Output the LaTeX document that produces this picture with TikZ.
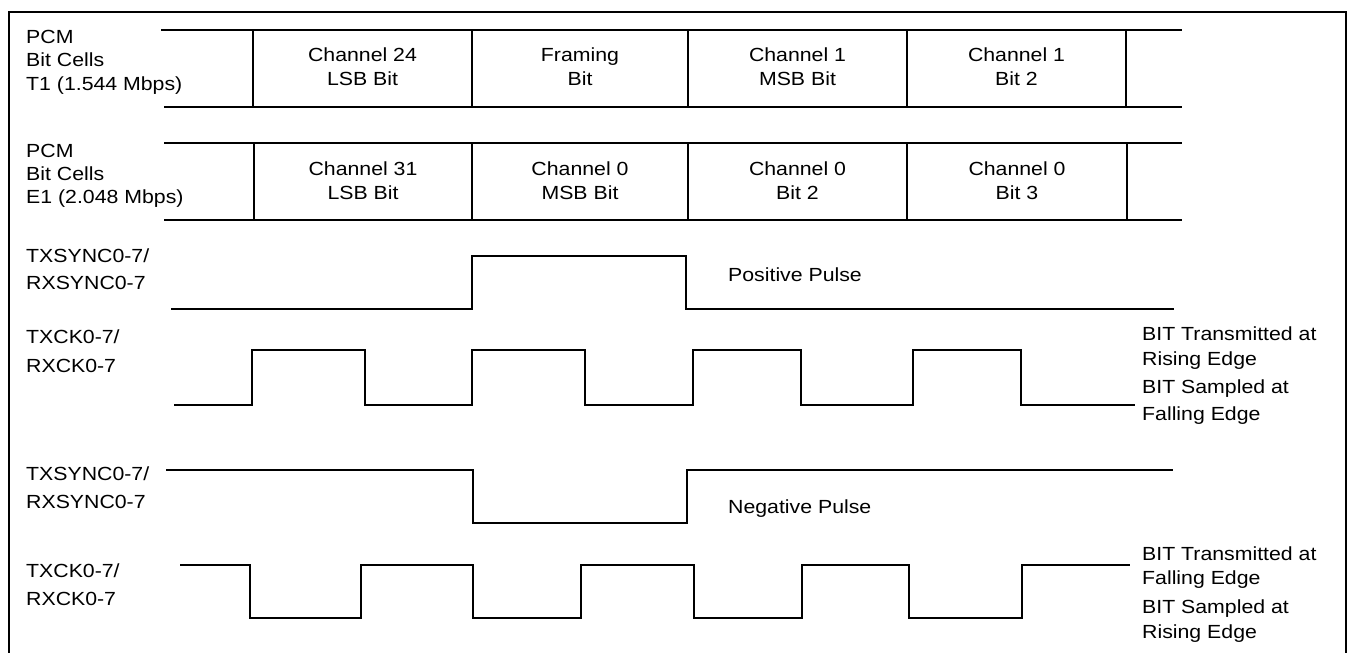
\documentclass[tikz,border=0pt]{standalone}
\usepackage{fontspec}
\setmainfont[FakeStretch=1.12]{Liberation Sans}
\begin{document}
\begin{tikzpicture}[x=1pt,y=-1pt,
  wave/.style={line width=1.3pt, line join=miter},
  cell/.style={line width=1.2pt},
  lbl/.style={anchor=base west, inner sep=0pt, font=\fontsize{19}{23}\selectfont},
  ctxt/.style={anchor=base, inner sep=0pt, font=\fontsize{19}{23}\selectfont},
]
\useasboundingbox (0,0) rectangle (1349,653);
\draw[line width=2.6pt] (9,653) -- (9,12) -- (1346,12) -- (1346,653);

% T1 bit cells
\draw[cell] (161,30) -- (1182,30);
\draw[cell] (164,107) -- (1182,107);
\foreach \x in {253,472,688,907,1126} \draw[cell] (\x,30) -- (\x,107);
% E1 bit cells
\draw[cell] (164,143) -- (1182,143);
\draw[cell] (164,220) -- (1182,220);
\foreach \x in {254,472,688,907,1127} \draw[cell] (\x,143) -- (\x,220);

% left labels
\node[lbl] (t1a) at (26,43) {PCM};
\node[lbl] (t1b) at (26,66.5) {Bit Cells};
\node[lbl] (t1c) at (26,90) {T1 (1.544 Mbps)};
\node[lbl] (e1a) at (26,157) {PCM};
\node[lbl] (e1b) at (26,180) {Bit Cells};
\node[lbl] (e1c) at (26,203) {E1 (2.048 Mbps)};
\node[lbl] (s1a) at (26,262) {TXSYNC0-7/};
\node[lbl] (s1b) at (26,289) {RXSYNC0-7};
\node[lbl] (c1a) at (26,343) {TXCK0-7/};
\node[lbl] (c1b) at (26,372) {RXCK0-7};
\node[lbl] (s2a) at (26,480) {TXSYNC0-7/};
\node[lbl] (s2b) at (26,508) {RXSYNC0-7};
\node[lbl] (c2a) at (26,577) {TXCK0-7/};
\node[lbl] (c2b) at (26,605) {RXCK0-7};

% T1 cell texts
\node[ctxt] (ta1) at (362.5,61) {Channel 24};
\node[ctxt] (ta2) at (362.5,85) {LSB Bit};
\node[ctxt] (tb1) at (580,61) {Framing};
\node[ctxt] (tb2) at (580,85) {Bit};
\node[ctxt] (tc1) at (797.5,61) {Channel 1};
\node[ctxt] (tc2) at (797.5,85) {MSB Bit};
\node[ctxt] (td1) at (1016.5,61) {Channel 1};
\node[ctxt] (td2) at (1016.5,85) {Bit 2};
% E1 cell texts
\node[ctxt] (ea1) at (363,175) {Channel 31};
\node[ctxt] (ea2) at (363,199) {LSB Bit};
\node[ctxt] (eb1) at (580,175) {Channel 0};
\node[ctxt] (eb2) at (580,199) {MSB Bit};
\node[ctxt] (ec1) at (797.5,175) {Channel 0};
\node[ctxt] (ec2) at (797.5,199) {Bit 2};
\node[ctxt] (ed1) at (1017,175) {Channel 0};
\node[ctxt] (ed2) at (1017,199) {Bit 3};

% positive sync pulse
\draw[wave] (171,309) -| (472,256) -| (686,309) -- (1174,309);
\node[lbl] (pos) at (728,281) {Positive Pulse};

% clock 1
\draw[wave] (174,405) -| (252,350) -| (365,405) -| (472,350) -| (585,405)
  -| (693,350) -| (801,405) -| (913,350) -| (1021,405) -- (1135,405);
\node[lbl] (r1a) at (1142,340) {BIT Transmitted at};
\node[lbl] (r1b) at (1142,365) {Rising Edge};
\node[lbl] (r1c) at (1142,393) {BIT Sampled at};
\node[lbl] (r1d) at (1142,420) {Falling Edge};

% negative sync pulse
\draw[wave] (166,470) -| (473,523) -| (687,470) -- (1173,470);
\node[lbl] (neg) at (728,513) {Negative Pulse};

% clock 2
\draw[wave] (180,565) -| (250,618) -| (361,565) -| (473,618) -| (581,565)
  -| (694,618) -| (802,565) -| (909,618) -| (1022,565) -- (1130,565);
\node[lbl] (r2a) at (1142,560) {BIT Transmitted at};
\node[lbl] (r2b) at (1142,584) {Falling Edge};
\node[lbl] (r2c) at (1142,613) {BIT Sampled at};
\node[lbl] (r2d) at (1142,638) {Rising Edge};
\end{tikzpicture}
\end{document}
